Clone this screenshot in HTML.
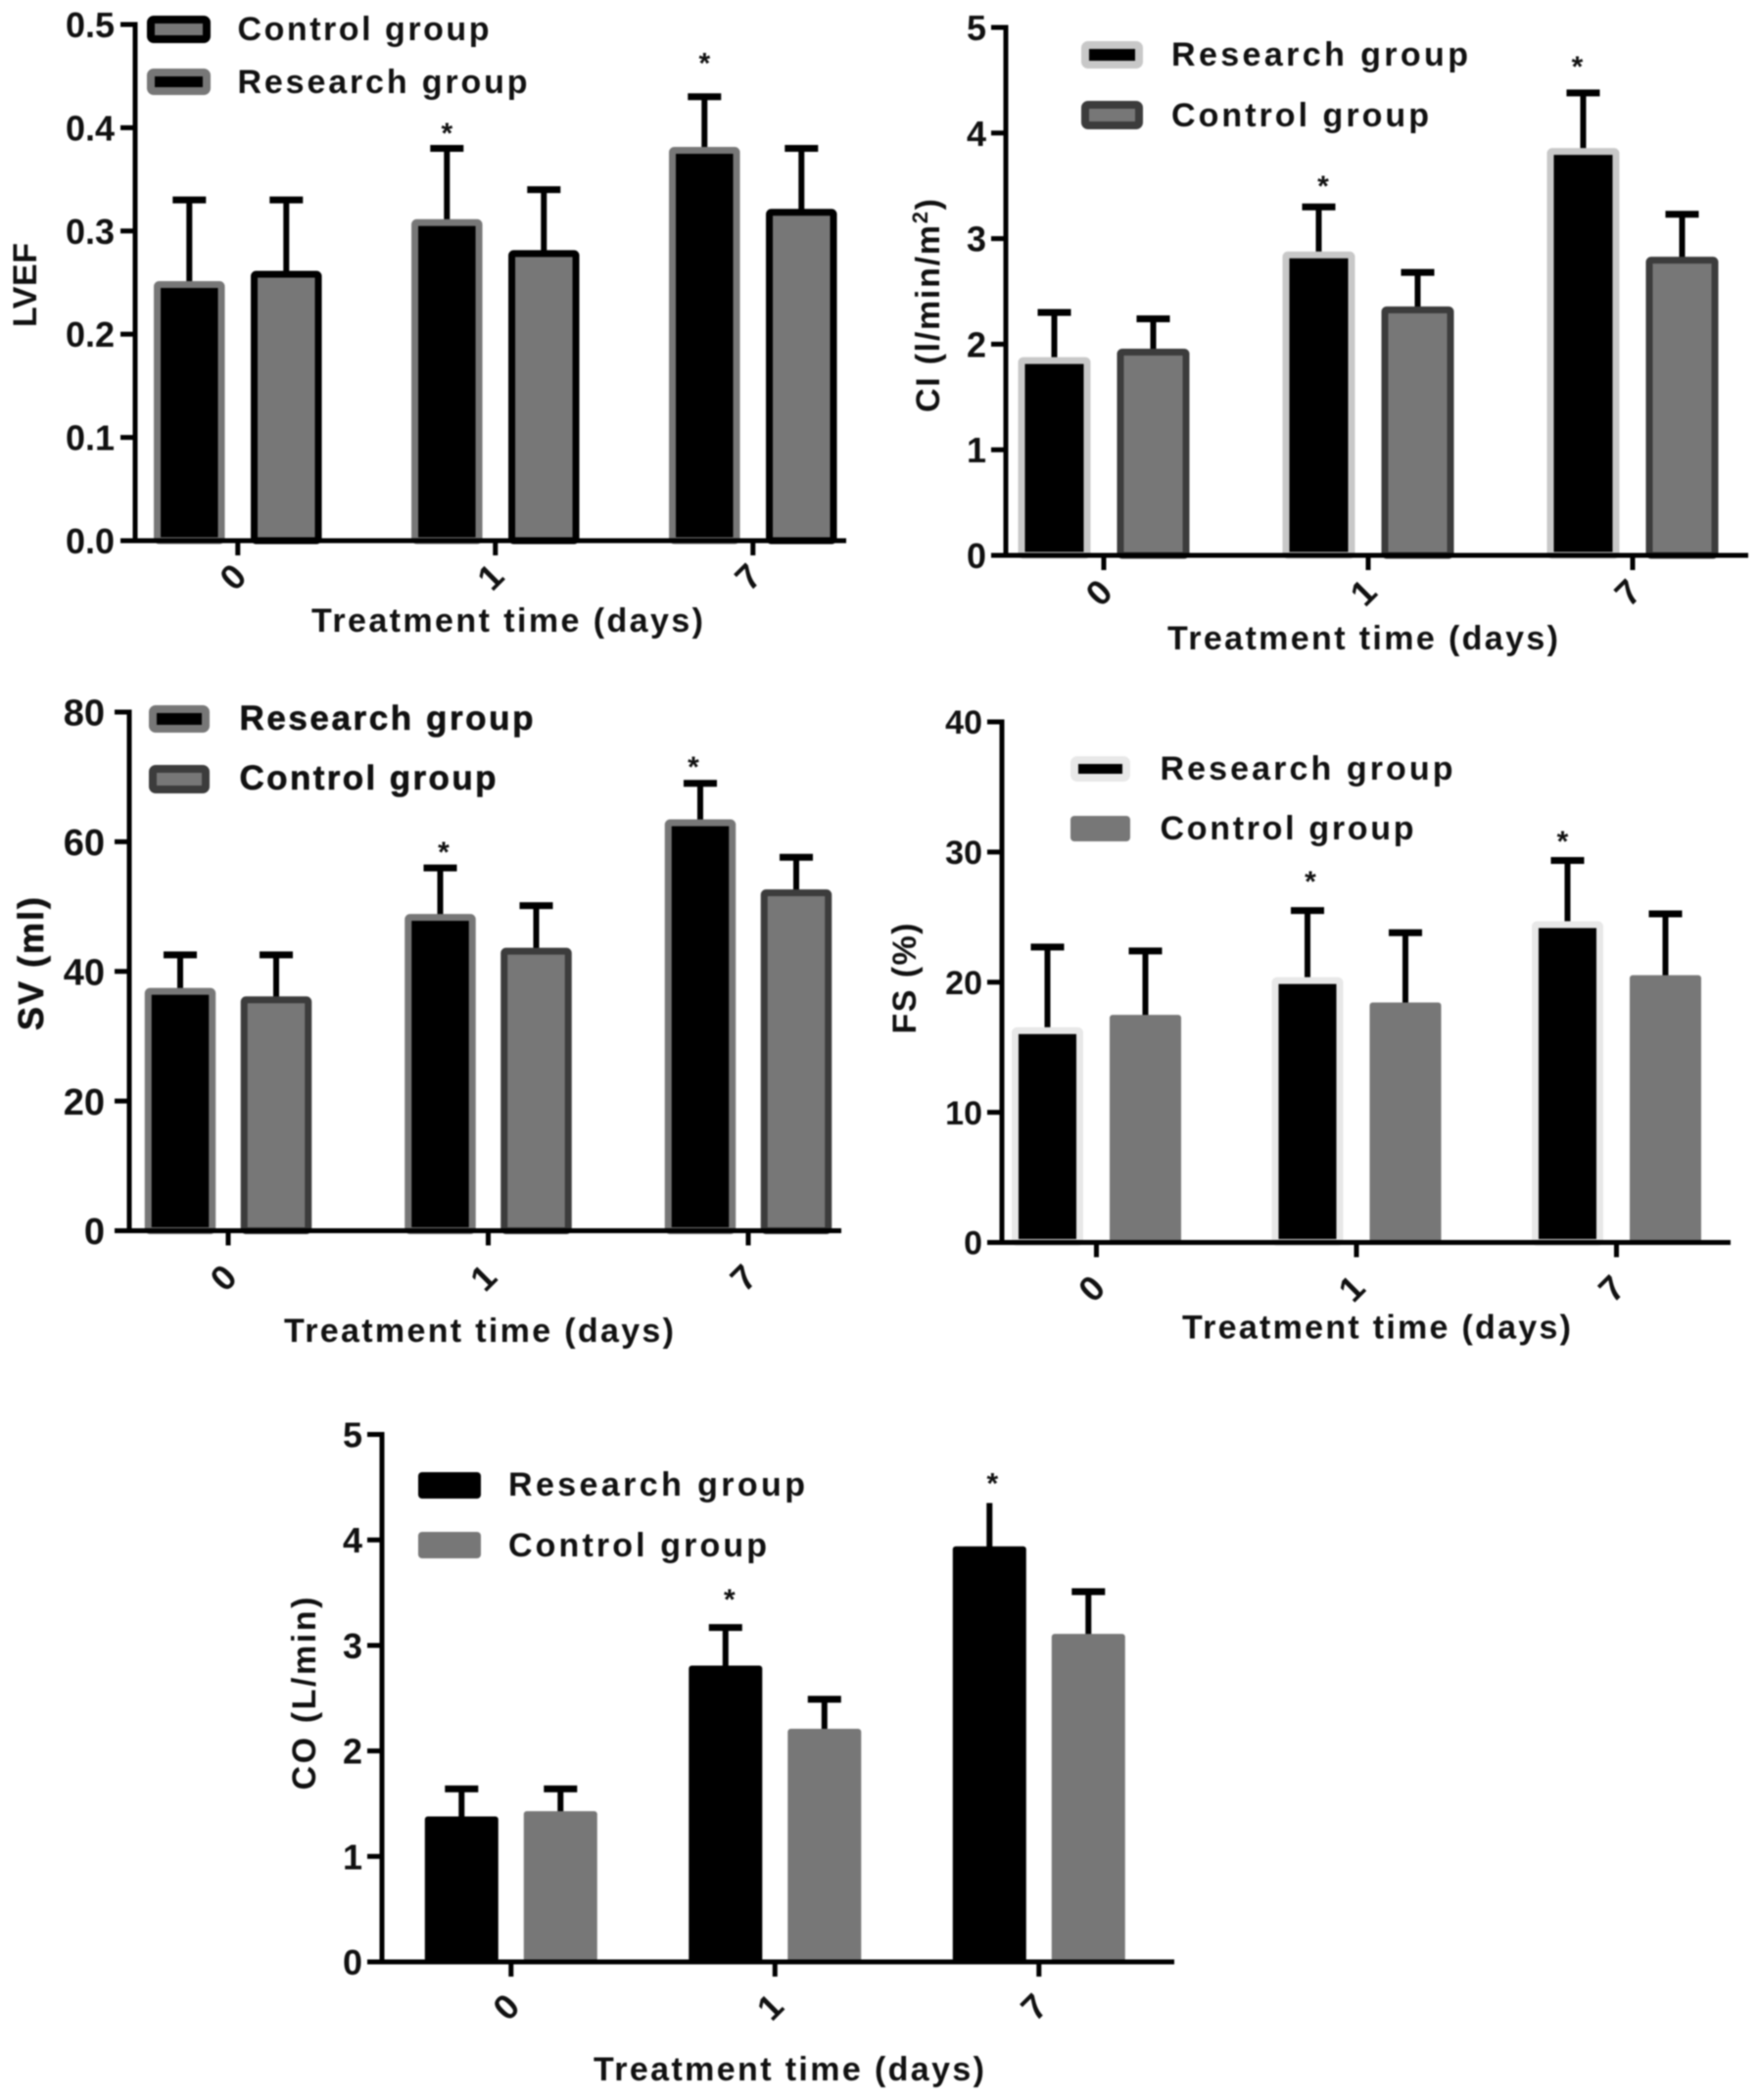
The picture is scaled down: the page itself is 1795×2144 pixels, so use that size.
<!DOCTYPE html>
<html lang="en">
<head>
<meta charset="utf-8">
<title>Cardiac function by treatment time</title>
<style>
html,body{margin:0;padding:0;background:#fff;}
body{width:1795px;height:2144px;overflow:hidden;}
svg{display:block;filter:blur(0.7px);}
text{font-family:"Liberation Sans",sans-serif;font-weight:bold;fill:#111;}
.lg{font-size:34px;}
.xt{font-size:34px;}
.yt{font-size:34px;}
.heavy{stroke:#111;stroke-width:0.6px;}
</style>
</head>
<body>
<svg id="figure" xmlns="http://www.w3.org/2000/svg" width="1795" height="2144" viewBox="0 0 1795 2144">
<rect x="0" y="0" width="1795" height="2144" fill="#fff"/>

<g id="p-lvef">
  <text class="yt" transform="translate(37 291) rotate(-90)" text-anchor="middle" textLength="86">LVEF</text>
  <text class="xt" x="318" y="645" textLength="400">Treatment time (days)</text>
  <g>
    <rect x="154" y="20" width="57" height="20" rx="3" fill="#777" stroke="#000" stroke-width="8"/>
    <text class="lg" x="242.5" y="41" textLength="257">Control group</text>
    <rect x="154" y="74" width="57" height="19" rx="3" fill="#000" stroke="#777" stroke-width="8"/>
    <text class="lg" x="242.5" y="95" textLength="296">Research group</text>
  </g>
</g>

<g id="p-ci">
  <text class="yt" transform="translate(959 312) rotate(-90)" text-anchor="middle" textLength="218">CI (l/min/m<tspan font-size="22" dy="-12">2</tspan><tspan dy="12">)</tspan></text>
  <text class="xt" x="1192" y="663" textLength="399">Treatment time (days)</text>
  <g>
    <rect x="1108" y="46" width="55" height="20" rx="3" fill="#000" stroke="#c8c8c8" stroke-width="8"/>
    <text class="lg" x="1196" y="67" textLength="303">Research group</text>
    <rect x="1108" y="107" width="55" height="21" rx="3" fill="#777" stroke="#3c3c3c" stroke-width="8"/>
    <text class="lg" x="1196" y="129" textLength="263">Control group</text>
  </g>
</g>

<g id="p-sv">
  <text class="yt heavy" transform="translate(44 984) rotate(-90)" text-anchor="middle" textLength="136" style="font-size:36px">SV (ml)</text>
  <text class="xt" x="290" y="1370" textLength="398">Treatment time (days)</text>
  <g>
    <rect x="156" y="724" width="54" height="20" rx="3" fill="#000" stroke="#777" stroke-width="8"/>
    <text class="lg heavy" x="244.5" y="745" textLength="300" style="font-size:35px">Research group</text>
    <rect x="156" y="785" width="54" height="21" rx="3" fill="#777" stroke="#3c3c3c" stroke-width="8"/>
    <text class="lg heavy" x="244.5" y="806" textLength="262" style="font-size:35px">Control group</text>
  </g>
</g>

<g id="p-fs">
  <text class="yt" transform="translate(935 999) rotate(-90)" text-anchor="middle" textLength="113">FS (%)</text>
  <text class="xt" x="1207" y="1366.5" textLength="397">Treatment time (days)</text>
  <g>
    <rect x="1097" y="776" width="53" height="18" rx="3" fill="#000" stroke="#e8e8e8" stroke-width="8"/>
    <text class="lg" x="1184.5" y="796" textLength="299">Research group</text>
    <rect x="1093" y="833" width="61" height="26" rx="4" fill="#777"/>
    <text class="lg" x="1184.5" y="857" textLength="259">Control group</text>
  </g>
</g>

<g id="p-co">
  <text class="yt" transform="translate(322 1729) rotate(-90)" text-anchor="middle" textLength="197">CO (L/min)</text>
  <text class="xt" x="606" y="2124" textLength="399">Treatment time (days)</text>
  <g>
    <rect x="427" y="1503" width="64" height="27" rx="4" fill="#000"/>
    <text class="lg" x="519" y="1527" textLength="303">Research group</text>
    <rect x="427" y="1564" width="64" height="27" rx="4" fill="#777"/>
    <text class="lg" x="519" y="1589" textLength="264">Control group</text>
  </g>
</g>
</svg>

<script>
// ---- shared categories ----
const categories = ['0', '1', '7'];

// ---- LVEF ----
const lvefTicks = ['0.0', '0.1', '0.2', '0.3', '0.4', '0.5'];
const lvefResearch = [0.25, 0.31, 0.38];
const lvefControl = [0.26, 0.28, 0.32];
const lvefResearchErr = [0.08, 0.07, 0.05];
const lvefControlErr = [0.07, 0.06, 0.06];
const lvefStars = [null, 0.398, 0.466];

// ---- CI ----
const ciTicks = ['0', '1', '2', '3', '4', '5'];
const ciResearch = [1.85, 2.85, 3.83];
const ciControl = [1.93, 2.33, 2.80];
const ciResearchErr = [0.45, 0.45, 0.55];
const ciControlErr = [0.31, 0.35, 0.43];
const ciStars = [null, 3.53, 4.66];

// ---- SV ----
const svTicks = ['0', '20', '40', '60', '80'];
const svResearch = [37.3, 48.7, 63.3];
const svControl = [36.0, 43.5, 52.5];
const svResearchErr = [5.25, 7.25, 5.7];
const svControlErr = [6.55, 6.65, 5.1];
const svStars = [null, 58.9, 72.1];

// ---- FS ----
const fsTicks = ['0', '10', '20', '30', '40'];
const fsResearch = [16.35, 20.2, 24.5];
const fsControl = [17.3, 18.25, 20.35];
const fsResearchErr = [6.35, 5.3, 4.85];
const fsControlErr = [5.1, 5.55, 4.9];
const fsStars = [null, 28.0, 31.1];

// ---- CO ----
const coTicks = ['0', '1', '2', '3', '4', '5'];
const coResearch = [1.37, 2.80, 3.93];
const coControl = [1.42, 2.20, 3.10];
const coResearchErr = [0.27, 0.37, 0.42];
const coControlErr = [0.22, 0.29, 0.41];
const coStars = [null, 3.47, 4.57];

const SVGNS = 'http://www.w3.org/2000/svg';

function attrs(el, map) {
  for (const k in map) el.setAttribute(k, map[k]);
  return el;
}

function drawPanel(cfg) {
  const root = document.getElementById(cfg.id);
  const yMax = parseFloat(cfg.ticks[cfg.ticks.length - 1]);
  const yScale = function (v) { return cfg.baseY - (v / yMax) * (cfg.baseY - cfg.topY); };
  const xScale = function (i) { return cfg.firstTick + i * cfg.tickStep; };

  const barsGroup = document.createElementNS(SVGNS, 'g');
  
  
  root.appendChild(barsGroup);

  const series = [
    { key: 'research', sign: -1, vals: cfg.research, errs: cfg.researchErr, fill: cfg.rFill, stroke: cfg.rStroke },
    { key: 'control', sign: 1, vals: cfg.control, errs: cfg.controlErr, fill: cfg.cFill, stroke: cfg.cStroke }
  ];

  series.forEach(function (s) {
    s.vals.forEach(function (v, i) {
      const cx = xScale(i) + s.sign * cfg.barOffset;
      const top = yScale(v + s.errs[i]);
      const sw = s.stroke ? cfg.barStroke : 0;
      const yv = yScale(v) - cfg.topLift;

      const stem = document.createElementNS(SVGNS, 'line');
      attrs(stem, { x1: cx, x2: cx, y1: top, y2: yv + 4, stroke: '#000', 'stroke-width': 6 });
      
      
      barsGroup.appendChild(stem);

      const isCapHidden = cfg.hiddenCap && cfg.hiddenCap[0] === s.key && cfg.hiddenCap[1] === i;
      if (!isCapHidden) {
        const cap = document.createElementNS(SVGNS, 'line');
        attrs(cap, { x1: cx - 17, x2: cx + 17, y1: top, y2: top, stroke: '#000', 'stroke-width': 7 });
        
        
        barsGroup.appendChild(cap);
      }

      const bar = document.createElementNS(SVGNS, 'rect');
      attrs(bar, {
        x: cx - cfg.barW / 2 + sw / 2,
        y: yv + sw / 2,
        width: cfg.barW - sw,
        height: Math.max(0, cfg.baseY - yv - sw / 2),
        rx: sw ? 2 : 3,
        fill: s.fill
      });
      if (s.stroke) attrs(bar, { stroke: s.stroke, 'stroke-width': sw });
      
      
      barsGroup.appendChild(bar);
    });
  });

  cfg.stars.forEach(function (sv, i) {
    if (sv === null) return;
    const star = document.createElementNS(SVGNS, 'text');
    attrs(star, {
      x: xScale(i) - cfg.barOffset + cfg.starNudge[i],
      y: yScale(sv) + 13.5,
      'text-anchor': 'middle',
      'font-size': 30
    });
    star.textContent = '*';
    
    
    root.appendChild(star);
  });

  const yAxis = document.createElementNS(SVGNS, 'line');
  attrs(yAxis, { x1: cfg.axisX, x2: cfg.axisX, y1: cfg.topY - 2.5, y2: cfg.baseY + 2.5, stroke: '#000', 'stroke-width': 5 });
  
  
  root.appendChild(yAxis);

  const xAxis = document.createElementNS(SVGNS, 'line');
  attrs(xAxis, { x1: cfg.axisX - 15, x2: cfg.xEnd, y1: cfg.baseY, y2: cfg.baseY, stroke: '#000', 'stroke-width': 5 });
  
  
  root.appendChild(xAxis);

  cfg.ticks.forEach(function (label) {
    const v = parseFloat(label);
    const tick = document.createElementNS(SVGNS, 'line');
    attrs(tick, { x1: cfg.axisX - 15, x2: cfg.axisX, y1: yScale(v), y2: yScale(v), stroke: '#000', 'stroke-width': 5 });
    
    
    root.appendChild(tick);

    const t = document.createElementNS(SVGNS, 'text');
    attrs(t, { x: cfg.axisX - cfg.tickGap, y: yScale(v) + cfg.tickFont * 0.36, 'text-anchor': 'end', 'font-size': cfg.tickFont });
    t.textContent = label;
    
    
    root.appendChild(t);
  });

  categories.forEach(function (label, i) {
    const tx = xScale(i);
    const tick = document.createElementNS(SVGNS, 'line');
    attrs(tick, { x1: tx, x2: tx, y1: cfg.baseY, y2: cfg.baseY + 15, stroke: '#000', 'stroke-width': 5 });
    
    
    root.appendChild(tick);

    const lx = tx - 5;
    const ly = cfg.baseY + cfg.xLabelDrop;
    const t = document.createElementNS(SVGNS, 'text');
    attrs(t, {
      x: lx,
      y: ly + 12.5,
      'text-anchor': 'middle',
      'font-size': 36,
      transform: 'rotate(-45 ' + lx + ' ' + ly + ')'
    });
    t.textContent = label;
    
    
    root.appendChild(t);
  });
}

drawPanel({
  id: 'p-lvef', ticks: lvefTicks, research: lvefResearch, control: lvefControl,
  researchErr: lvefResearchErr, controlErr: lvefControlErr, stars: lvefStars,
  axisX: 138, baseY: 552, topY: 25, xEnd: 864, firstTick: 242.8, tickStep: 263,
  barOffset: 49.5, barW: 72.5, barStroke: 7, tickFont: 36, tickGap: 21, xLabelDrop: 37, topLift: 1.5,
  starNudge: [0, 0, 0],
  rFill: '#000', rStroke: '#777', cFill: '#777', cStroke: '#000'
});
drawPanel({
  id: 'p-ci', ticks: ciTicks, research: ciResearch, control: ciControl,
  researchErr: ciResearchErr, controlErr: ciControlErr, stars: ciStars,
  axisX: 1027, baseY: 567, topY: 28, xEnd: 1785, firstTick: 1127, tickStep: 270,
  barOffset: 50.5, barW: 74, barStroke: 7, tickFont: 36, tickGap: 20, xLabelDrop: 38, topLift: 3,
  starNudge: [0, 4.5, -6],
  rFill: '#000', rStroke: '#c8c8c8', cFill: '#777', cStroke: '#3c3c3c'
});
drawPanel({
  id: 'p-sv', ticks: svTicks, research: svResearch, control: svControl,
  researchErr: svResearchErr, controlErr: svControlErr, stars: svStars,
  axisX: 132, baseY: 1256.5, topY: 727, xEnd: 859, firstTick: 233, tickStep: 265.5,
  barOffset: 49, barW: 72.5, barStroke: 7, tickFont: 38, tickGap: 25, xLabelDrop: 48, topLift: 1,
  starNudge: [0, 3.5, -7],
  rFill: '#000', rStroke: '#777', cFill: '#777', cStroke: '#3c3c3c'
});
drawPanel({
  id: 'p-fs', ticks: fsTicks, research: fsResearch, control: fsControl,
  researchErr: fsResearchErr, controlErr: fsControlErr, stars: fsStars,
  axisX: 1023, baseY: 1268.5, topY: 737, xEnd: 1767, firstTick: 1119.5, tickStep: 265.5,
  barOffset: 50, barW: 73, barStroke: 7, tickFont: 34, tickGap: 20, xLabelDrop: 47, topLift: 2.5,
  starNudge: [0, 3, -5],
  rFill: '#000', rStroke: '#e8e8e8', cFill: '#777', cStroke: null
});
drawPanel({
  id: 'p-co', ticks: coTicks, research: coResearch, control: coControl,
  researchErr: coResearchErr, controlErr: coControlErr, stars: coStars,
  axisX: 390, baseY: 2003, topY: 1464.5, xEnd: 1199, firstTick: 521.8, tickStep: 269.5,
  barOffset: 50.5, barW: 75, barStroke: 0, tickFont: 36, tickGap: 20, xLabelDrop: 46, topLift: 1,
  starNudge: [0, 4, 3],
  rFill: '#000', rStroke: null, cFill: '#777', cStroke: null, hiddenCap: ['research', 2]
});
</script>
</body>
</html>
